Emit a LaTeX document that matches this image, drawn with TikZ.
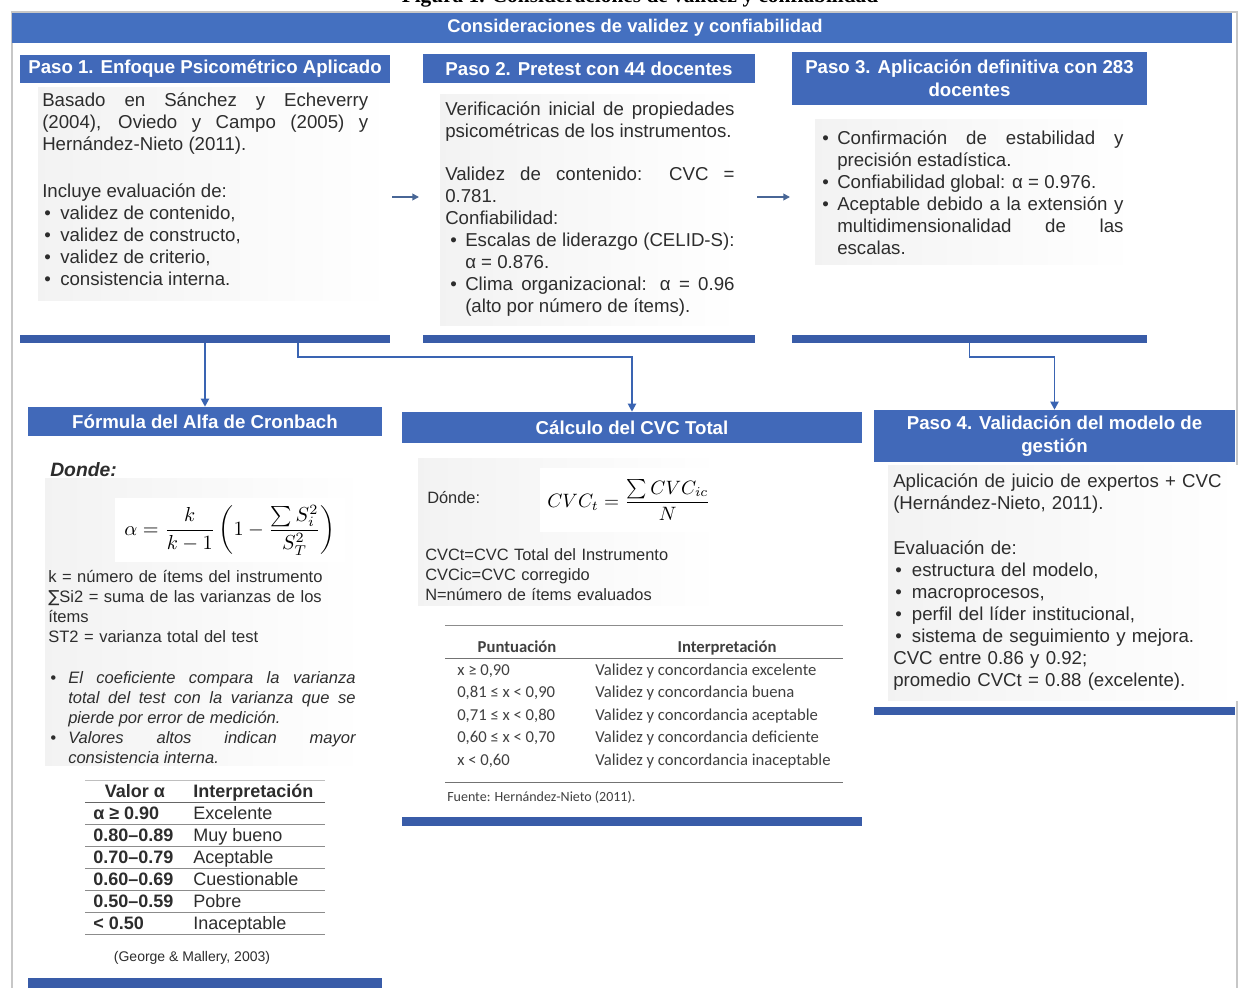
\documentclass[tikz,border=0pt]{standalone}
\usepackage[no-math]{fontspec}
\setmainfont{Liberation Sans}
\newfontfamily\capserif{Liberation Serif}
\newfontfamily\calfont{Carlito}
\newfontfamily\symfont{DejaVu Sans}
\usetikzlibrary{arrows.meta,calc,fit}

\definecolor{titleblue}{RGB}{68,112,192}
\definecolor{hblue}{RGB}{65,105,185}
\definecolor{barblue}{RGB}{57,92,168}
\definecolor{lblue}{RGB}{58,100,178}
\definecolor{agray}{RGB}{72,102,150}
\definecolor{txt}{RGB}{45,45,45}

% bullet line: #1 = bullet offset, #2 = hanging indent of the text
\newcommand\bitem[2]{\noindent\hangindent=#2\hangafter=1\makebox[#2][l]{\hspace{#1}\textbullet}\ignorespaces}

\begin{document}
\begin{tikzpicture}[x=0.75pt,y=-0.75pt,
  hdr/.style={fill=hblue,text=white,inner sep=0pt,font=\bfseries\fontsize{14}{17}\selectfont,align=center},
  barbox/.style={fill=barblue,inner sep=0pt},
  body/.style={anchor=base west,inner sep=0pt,text=txt,font=\fontsize{14}{16.5}\selectfont,align=justify},
  small/.style={anchor=base west,inner sep=0pt,text=txt,font=\fontsize{12.4}{15}\selectfont,align=left},
  conn/.style={draw=lblue,line width=1.4pt,-{Triangle[length=6pt,width=6pt]}},
  flow/.style={draw=agray,line width=1.5pt,-{Triangle[length=5pt,width=5pt]}},
  panel/.style={left color=black!5,right color=white,draw=none},
  rule/.style={draw=black!45,line width=0.6pt},
  tcell/.style={anchor=base west,inner sep=0pt,text=txt,font=\fontsize{13.5}{16}\selectfont},
  tbold/.style={tcell,font=\bfseries\fontsize{13.5}{16}\selectfont},
  ccell/.style={anchor=base west,inner sep=0pt,text=black!75,font=\calfont\fontsize{12.5}{15}\selectfont},
  cbold/.style={ccell,font=\calfont\bfseries\fontsize{12.5}{15}\selectfont}]

\clip (0,0) rectangle (1243,988);
\fill[white] (0,0) rectangle (1243,988);

% caption line of the figure, cut by the upper edge
\node[anchor=base,inner sep=0pt,font=\capserif\bfseries\fontsize{16}{18}\selectfont] (cap) at (640,3)
  {Figura 1. Consideraciones de validez y confiabilidad};

% outer frame
\draw[black!22,line width=0.8pt] (12,12) rectangle (1237,1005);

% title bar
\node[hdr,fill=titleblue,minimum width=915pt,minimum height=22.5pt,font=\bfseries\fontsize{13.8}{16}\selectfont] (title) at (622,28)
  {\hspace*{19.5pt}Consideraciones de validez y confiabilidad};

% soft grey backgrounds behind the texts
\shade[panel] (38,88) rectangle (392,300);
\shade[panel] (440,95) rectangle (740,325);
\shade[panel] (815,120) rectangle (1135,265);
\shade[panel] (45,478) rectangle (365,765);
\shade[panel] (418,458) rectangle (720,605);
\shade[panel] (888,465) rectangle (1240,700);

% step headers
\node[hdr,minimum width=277.5pt,minimum height=21pt] (h1) at (205,69) {Paso 1. Enfoque Psicométrico Aplicado};
\node[hdr,minimum width=249pt,minimum height=21.75pt] (h2) at (589,68.5) {Paso 2. Pretest con 44 docentes};
\node[hdr,minimum width=266.25pt,minimum height=39.75pt] (h3) at (969.5,78.5) {Paso 3. Aplicación definitiva con 283\\docentes};
\node[hdr,minimum width=265.5pt,minimum height=21.75pt] (hF) at (205,421.5) {Fórmula del Alfa de Cronbach};
\node[hdr,minimum width=345pt,minimum height=23.25pt] (hC) at (632,427.5) {Cálculo del CVC Total};
\node[hdr,minimum width=270.75pt,minimum height=39pt] (h4) at (1054.5,436) {Paso 4. Validación del modelo de\\gestión};

% closing bars
\node[barbox,fit={(20,335) (390,343)}] (b1) {};
\node[barbox,fit={(423,335) (755,343)}] (b2) {};
\node[barbox,fit={(792,335) (1147,343)}] (b3) {};
\node[barbox,fit={(28,978) (382,990)}] (bF) {};
\node[barbox,fit={(402,817) (862,826)}] (bC) {};
\node[barbox,fit={(874,707) (1235,715)}] (b4) {};

% step 1
\node[body,text width=244.5pt] (t1) at (42,107)
 {Basado en Sánchez y Echeverry\linebreak (2004), Oviedo y Campo (2005) y\linebreak Hernández-Nieto (2011).\par
  \vspace{18.75pt}Incluye evaluación de:\par
  \bitem{1.5pt}{13.5pt}validez de contenido,\par
  \bitem{1.5pt}{13.5pt}validez de constructo,\par
  \bitem{1.5pt}{13.5pt}validez de criterio,\par
  \bitem{1.5pt}{13.5pt}consistencia interna.\par};

% step 2
\node[body,text width=217pt] (t2) at (445,116)
 {Verificación inicial de propiedades\linebreak psicométricas de los instrumentos.\par
  \vspace{15.75pt}Validez de contenido: CVC =\linebreak 0.781.\par
  Confiabilidad:\par
  \bitem{3.75pt}{15pt}Escalas de liderazgo (CELID-S):\linebreak α = 0.876.\par
  \bitem{3.75pt}{15pt}Clima organizacional: α = 0.96\linebreak (alto por número de ítems).\par};

% step 3
\node[body,text width=226pt] (t3) at (822,145)
 {\bitem{0pt}{11.25pt}Confirmación de estabilidad y\linebreak precisión estadística.\par
  \bitem{0pt}{11.25pt}Confiabilidad global: α = 0.976.\par
  \bitem{0pt}{11.25pt}Aceptable debido a la extensión y\linebreak multidimensionalidad de las\linebreak escalas.\par};

% step 4
\node[body,align=left,text width=256pt] (t4) at (893,487)
 {Aplicación de juicio de expertos + CVC\newline (Hernández-Nieto, 2011).\par
  \vspace{17.25pt}Evaluación de:\par
  \bitem{1.5pt}{14pt}estructura del modelo,\par
  \bitem{1.5pt}{14pt}macroprocesos,\par
  \bitem{1.5pt}{14pt}perfil del líder institucional,\par
  \bitem{1.5pt}{14pt}sistema de seguimiento y mejora.\par
  CVC entre 0.86 y 0.92;\par
  promedio CVCt = 0.88 (excelente).\par};

% Cronbach's alpha
\node[anchor=base west,inner sep=0pt,text=txt,font=\bfseries\itshape\fontsize{14.5}{17}\selectfont] (donde) at (50,476) {Donde:};
\node[fill=white,inner sep=0pt,fit={(115,498) (345,562)}] (alpha) {};
\node[inner sep=0pt] (alphaf) at (alpha.center)
  {\scalebox{1.52}{$\displaystyle \alpha=\frac{k}{k-1}\left(1-\frac{\sum S_i^2}{S_T^2}\right)$}};
\node[small,text width=240pt] (kdef) at (48,582)
 {k = número de ítems del instrumento\newline
  {\symfont ∑}Si2 = suma de las varianzas de los\newline
  ítems\newline
  ST2 = varianza total del test\par};
\node[small,align=justify,text width=229pt,font=\itshape\fontsize{12.4}{15}\selectfont] (note) at (50,683)
 {\bitem{0pt}{13.5pt}El coeficiente compara la varianza\linebreak total del test con la varianza que se\linebreak pierde por error de medición.\par
  \bitem{0pt}{13.5pt}Valores altos indican mayor\linebreak consistencia interna.\par};

% alpha interpretation table
\draw[rule,draw=black!25] (85,780) -- (325,780);
\node[tbold,anchor=base] (tva) at (135,797) {Valor α};
\node[tbold] (tin) at (193,797) {Interpretación};
\draw[rule,draw=black!60] (85,802) -- (325,802);
\foreach \v/\i [count=\n] in {{α ≥ 0.90}/Excelente,{0.80–0.89}/{Muy bueno},{0.70–0.79}/Aceptable,
    {0.60–0.69}/Cuestionable,{0.50–0.59}/Pobre,{< 0.50}/Inaceptable}{
  \node[tbold] (tv\n) at (93,797+22*\n) {\v};
  \node[tcell] (ti\n) at (193,797+22*\n) {\i};
  \draw[rule] (85,802+22*\n) -- (325,802+22*\n);
}
\node[anchor=base,inner sep=0pt,text=txt,font=\fontsize{10.5}{12}\selectfont] (gm) at (192,961) {(George \& Mallery, 2003)};

% CVC total
\node[anchor=base west,inner sep=0pt,text=txt,font=\fontsize{12.3}{15}\selectfont] (donde2) at (427,503) {Dónde:};
\node[fill=white,inner sep=0pt,fit={(540,468) (718,532)}] (cvcbox) {};
\node[inner sep=0pt] (cvcf) at (cvcbox.center)
  {\scalebox{1.45}{$\displaystyle CVC_t=\frac{\sum CVC_{ic}}{N}$}};
\node[small,font=\fontsize{12.3}{15}\selectfont,text width=250pt] (cvcdef) at (425,560)
 {CVCt=CVC Total del Instrumento\newline CVCic=CVC corregido\newline N=número de ítems evaluados\par};

% CVC interpretation table
\draw[rule] (445,625) -- (843,625);
\node[cbold,anchor=base] (cp) at (517,652) {Puntuación};
\node[cbold,anchor=base] (ci) at (727,652) {Interpretación};
\draw[rule,draw=black!55] (445,658) -- (843,658);
\foreach \p/\q [count=\n] in {{x ≥ 0,90}/excelente,{0,81 ≤ x < 0,90}/buena,{0,71 ≤ x < 0,80}/aceptable,
    {0,60 ≤ x < 0,70}/deficiente,{x < 0,60}/inaceptable}{
  \node[ccell] (cp\n) at (457,652.5+22.5*\n) {\p};
  \node[ccell] (cq\n) at (595,652.5+22.5*\n) {Validez y concordancia \q};
}
\draw[rule,draw=black!55] (445,782) -- (843,782);
\node[ccell,font=\calfont\fontsize{10.5}{12}\selectfont] (fuente) at (447,801) {Fuente: Hernández-Nieto (2011).};

% flow between the upper steps
\coordinate (f1s) at (392,197);
\coordinate (f1e) at (419,197);
\coordinate (f2s) at (757,197);
\coordinate (f2e) at (790,197);
\draw[flow] (f1s) -- (f1e);
\draw[flow] (f2s) -- (f2e);

% connectors to the lower panels
\draw[conn] (b1.south) -- (hF.north);
\draw[conn] ($(b1.south)+(93,0)$) -- ++(0,14) -| (hC.north);
\draw[conn] (b3.south) -- ++(0,14) -| (h4.north);

\end{tikzpicture}
\end{document}
